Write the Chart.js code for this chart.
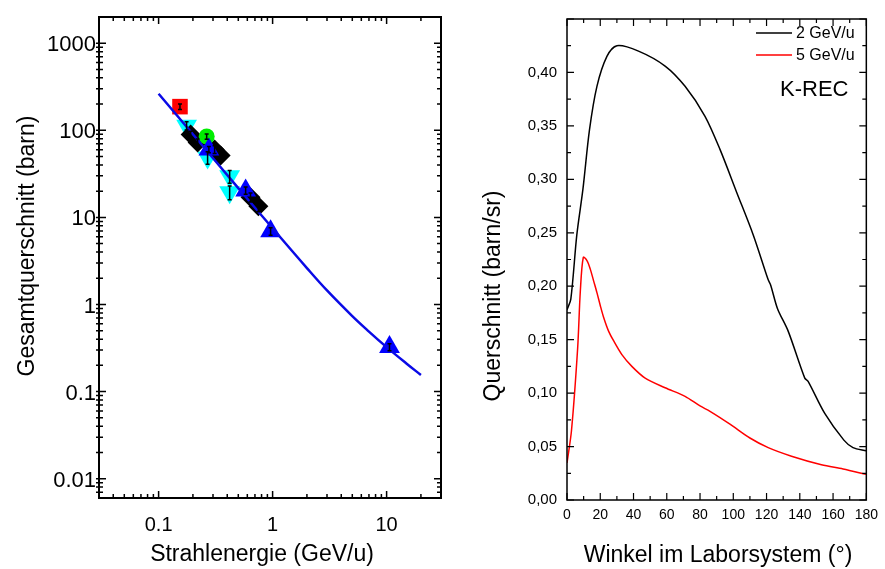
<!DOCTYPE html>
<html>
<head>
<meta charset="utf-8">
<script src="https://cdn.jsdelivr.net/npm/chart.js"></script>
<style>
  body { margin: 0; background: #fff; }
  #wrap { position: relative; width: 885px; height: 569px; }
  #left { position: absolute; left: 0; top: 0; }
  #right { position: absolute; left: 460px; top: 0; }
</style>
</head>
<body>
<div id="wrap">
  <canvas id="left" width="460" height="569"></canvas>
  <canvas id="right" width="425" height="569"></canvas>
</div>
<script>
// ---- left panel: total cross section vs beam energy ----
const fitEnergy = [0.1, 0.2, 0.5, 1, 2, 3, 5, 7, 10, 15, 20];
const fitSigma = [263, 90, 21.7, 7.5, 2.62, 1.45, 0.736, 0.489, 0.324, 0.209, 0.155];

const redEnergy = [0.154];
const redSigma = [187];
const redErr = [14];

const cyanEnergy = [0.176, 0.269, 0.42, 0.42];
const cyanSigma = [113, 48.8, 29.6, 19.4];
const cyanErr = [12, 8, 5, 3.5];

const blackEnergy = [0.191, 0.22, 0.31, 0.35, 0.64, 0.75];
const blackSigma = [89.5, 72.5, 60.3, 51.5, 17, 13.4];
const blackErr = [8, 7, 6, 5, 2, 1.8];

const greenEnergy = [0.264];
const greenSigma = [84.9];
const greenErr = [6];

const blueEnergy = [0.276, 0.58, 0.96, 10.6];
const blueSigma = [60.3, 20.4, 6.93, 0.325];
const blueErr = [5, 2, 0.7, 0.03];

const leftXTicks = [0.1, 1, 10];
const leftXText = ['0.1', '1', '10'];
const leftYTicks = [0.01, 0.1, 1, 10, 100, 1000];
const leftYText = ['0.01', '0.1', '1', '10', '100', '1000'];

// ---- right panel: K-REC angular distribution ----
const angle2 = [0, 2.3, 5.9, 9.6, 13.5, 18, 24, 30, 43, 59, 71, 83, 92, 102, 112, 121, 122.5, 126.6, 133, 143, 145, 155, 166.5, 172, 180];
const sigma2 = [0.178, 0.188, 0.248, 0.291, 0.346, 0.387, 0.415, 0.425, 0.42, 0.406, 0.387, 0.359, 0.328, 0.288, 0.248, 0.206, 0.201, 0.179, 0.158, 0.114, 0.111, 0.081, 0.056, 0.049, 0.046];
const angle5 = [0, 2.7, 6.4, 8, 9.8, 12, 14, 16, 18, 20, 22, 25, 28, 33, 39, 47, 59, 71, 80, 86, 98, 110, 121, 135, 153, 166, 180];
const sigma5 = [0.0346, 0.065, 0.142, 0.195, 0.227, 0.224, 0.216, 0.205, 0.194, 0.182, 0.171, 0.158, 0.149, 0.136, 0.125, 0.114, 0.105, 0.097, 0.088, 0.083, 0.071, 0.058, 0.049, 0.041, 0.033, 0.029, 0.024];
const seriesLabels = ['2 GeV/u', '5 GeV/u'];

const FONT = '"Liberation Sans", Arial, sans-serif';
Chart.defaults.font.family = FONT;
Chart.defaults.color = '#000';

function pts(xs, ys) {
    return xs.map((x, i) => ({ x: x, y: ys[i] }));
}

// major + minor tick values of a scale
function tickSet(scale, minorStep) {
    const majors = scale.ticks.map(t => t.value);
    const out = majors.map(v => ({ v: v, major: true }));
    if (scale.type === 'logarithmic') {
        const k0 = Math.floor(Math.log10(scale.min));
        const k1 = Math.ceil(Math.log10(scale.max));
        for (let k = k0; k <= k1; k++) {
            for (let m = 2; m <= 9; m++) {
                const v = m * Math.pow(10, k);
                if (v > scale.min && v < scale.max) out.push({ v: v, major: false });
            }
        }
    } else if (minorStep) {
        for (let v = scale.min; v <= scale.max + 1e-9; v += minorStep) {
            if (!majors.some(m => Math.abs(m - v) < 1e-9)) out.push({ v: v, major: false });
        }
    }
    return out;
}

// box round the plot, inward ticks on all four sides, axis titles
const framePlugin = {
    id: 'frame',
    afterDraw(chart, args, o) {
        const { ctx, chartArea: a, scales: { x, y } } = chart;
        ctx.save();
        ctx.strokeStyle = '#000';
        ctx.lineWidth = o.tickWidth;
        ctx.beginPath();
        tickSet(x, o.xMinor).forEach(t => {
            const px = x.getPixelForValue(t.v);
            const len = t.major ? o.major : o.minor;
            ctx.moveTo(px, a.bottom); ctx.lineTo(px, a.bottom - len);
            ctx.moveTo(px, a.top); ctx.lineTo(px, a.top + len);
        });
        tickSet(y, o.yMinor).forEach(t => {
            const py = y.getPixelForValue(t.v);
            const len = t.major ? o.major : o.minor;
            ctx.moveTo(a.left - o.out, py); ctx.lineTo(a.left + len, py);
            ctx.moveTo(a.right, py); ctx.lineTo(a.right - len, py);
        });
        ctx.stroke();
        ctx.lineWidth = o.lineWidth;
        ctx.strokeRect(a.left, a.top, a.right - a.left, a.bottom - a.top);

        ctx.fillStyle = '#000';
        ctx.font = '23px ' + FONT;
        ctx.textAlign = 'center';
        ctx.textBaseline = 'middle';
        ctx.fillText(o.xTitle, o.xTitleX, o.xTitleY);
        ctx.translate(o.yTitleX, o.yTitleY);
        ctx.rotate(-Math.PI / 2);
        ctx.fillText(o.yTitle, 0, 0);
        ctx.restore();
    }
};

// small I-shaped error bars for datasets that carry an errors array
const errorPlugin = {
    id: 'errbars',
    afterDatasetsDraw(chart) {
        const { ctx, scales: { x, y } } = chart;
        ctx.save();
        ctx.strokeStyle = '#000';
        ctx.lineWidth = 1.5;
        chart.data.datasets.forEach(ds => {
            if (!ds.errors) return;
            ds.data.forEach((p, i) => {
                const e = ds.errors[i];
                const px = x.getPixelForValue(p.x);
                const y1 = y.getPixelForValue(p.y + e);
                const y2 = y.getPixelForValue(p.y - e);
                ctx.beginPath();
                ctx.moveTo(px, y1); ctx.lineTo(px, y2);
                ctx.moveTo(px - 2, y1); ctx.lineTo(px + 2, y1);
                ctx.moveTo(px - 2, y2); ctx.lineTo(px + 2, y2);
                ctx.stroke();
            });
        });
        ctx.restore();
    }
};

const legendPlugin = {
    id: 'inlegend',
    afterDraw(chart, args, o) {
        const { ctx } = chart;
        ctx.save();
        ctx.font = '16px ' + FONT;
        ctx.textBaseline = 'middle';
        chart.data.datasets.forEach((ds, i) => {
            const yy = o.y + i * o.dy;
            ctx.strokeStyle = ds.borderColor;
            ctx.lineWidth = 1.5;
            ctx.beginPath();
            ctx.moveTo(o.x, yy); ctx.lineTo(o.x + o.len, yy);
            ctx.stroke();
            ctx.fillStyle = '#000';
            ctx.fillText(ds.label, o.x + o.len + 4, yy + 1);
        });
        ctx.font = '22px ' + FONT;
        ctx.fillText('K-REC', o.noteX, o.noteY);
        ctx.restore();
    }
};

// ---------- left chart ----------
new Chart(document.getElementById('left'), {
    type: 'scatter',
    data: {
        datasets: [
            { data: pts(fitEnergy, fitSigma), showLine: true, tension: 0.4, borderColor: '#0a0ae6', borderWidth: 2.5, pointRadius: 0 },
            { data: pts(blueEnergy, blueSigma), errors: blueErr, pointStyle: 'triangle', pointRadius: 12, backgroundColor: '#0000ff', borderColor: '#0000ff', borderWidth: 0 },
            { data: pts(greenEnergy, greenSigma), errors: greenErr, pointStyle: 'circle', pointRadius: 8, backgroundColor: '#00ee00', borderColor: '#00ee00', borderWidth: 0 },
            { data: pts(blackEnergy, blackSigma), errors: blackErr, pointStyle: 'rectRot', pointRadius: 10, backgroundColor: '#000', borderColor: '#000', borderWidth: 0 },
            { data: pts(cyanEnergy, cyanSigma), errors: cyanErr, pointStyle: 'triangle', rotation: 180, pointRadius: 12, backgroundColor: '#00ffff', borderColor: '#00ffff', borderWidth: 0 },
            { data: pts(redEnergy, redSigma), errors: redErr, pointStyle: 'rect', pointRadius: 11, backgroundColor: '#ff0000', borderColor: '#ff0000', borderWidth: 0 }
        ]
    },
    options: {
        responsive: false,
        animation: false,
        events: [],
        layout: { padding: { top: 17, right: 19, left: 0, bottom: 0 } },
        plugins: {
            legend: { display: false },
            tooltip: { enabled: false },
            frame: { lineWidth: 2, tickWidth: 1.5, major: 7, minor: 4, out: 3,
                     xTitle: 'Strahlenergie (GeV/u)', xTitleX: 262, xTitleY: 555,
                     yTitle: 'Gesamtquerschnitt (barn)', yTitleX: 28, yTitleY: 246 }
        },
        scales: {
            x: {
                type: 'logarithmic',
                min: 0.03,
                max: 30,
                afterBuildTicks(scale) { scale.ticks = leftXTicks.map(v => ({ value: v })); },
                afterFit(scale) { scale.height = 71; },
                grid: { display: false, drawTicks: false },
                border: { display: false },
                ticks: { font: { size: 20 }, padding: 15, maxRotation: 0, callback: (v, i) => leftXText[i] }
            },
            y: {
                type: 'logarithmic',
                min: 0.006,
                max: 2000,
                afterBuildTicks(scale) { scale.ticks = leftYTicks.map(v => ({ value: v })); },
                afterFit(scale) { scale.width = 99; },
                grid: { display: false, drawTicks: false },
                border: { display: false },
                ticks: { font: { size: 22 }, padding: 3, labelOffset: 2, callback: (v, i) => leftYText[i] }
            }
        }
    },
    plugins: [framePlugin, errorPlugin]
});

// ---------- right chart ----------
new Chart(document.getElementById('right'), {
    type: 'line',
    data: {
        datasets: [
            { label: seriesLabels[0], data: pts(angle2, sigma2), borderColor: '#000', borderWidth: 1.5, pointRadius: 0, tension: 0.3 },
            { label: seriesLabels[1], data: pts(angle5, sigma5), borderColor: '#ff0000', borderWidth: 1.5, pointRadius: 0, tension: 0.3 }
        ]
    },
    options: {
        responsive: false,
        animation: false,
        events: [],
        layout: { padding: { top: 15, right: 12, left: 0, bottom: 0 } },
        plugins: {
            legend: { display: false },
            tooltip: { enabled: false },
            frame: { lineWidth: 1.5, tickWidth: 1.2, major: 7, minor: 4, out: 0, xMinor: 10, yMinor: 0.025,
                     xTitle: 'Winkel im Laborsystem (°)', xTitleX: 258, xTitleY: 556,
                     yTitle: 'Querschnitt (barn/sr)', yTitleX: 34, yTitleY: 296 },
            inlegend: { x: 296, y: 33, dy: 22, len: 36, noteX: 320, noteY: 90 }
        },
        scales: {
            x: {
                type: 'linear',
                min: 0,
                max: 180,
                afterFit(scale) { scale.height = 69; },
                grid: { display: false, drawTicks: false },
                border: { display: false },
                ticks: { stepSize: 20, font: { size: 14 }, padding: 7, maxRotation: 0 }
            },
            y: {
                type: 'linear',
                min: 0,
                max: 0.45,
                afterFit(scale) { scale.width = 107; },
                grid: { display: false, drawTicks: false },
                border: { display: false },
                ticks: {
                    stepSize: 0.05,
                    font: { size: 15 },
                    padding: 10,
                    callback: v => v > 0.43 ? '' : v.toFixed(2).replace('.', ',')
                }
            }
        }
    },
    plugins: [framePlugin, legendPlugin]
});
</script>
</body>
</html>
